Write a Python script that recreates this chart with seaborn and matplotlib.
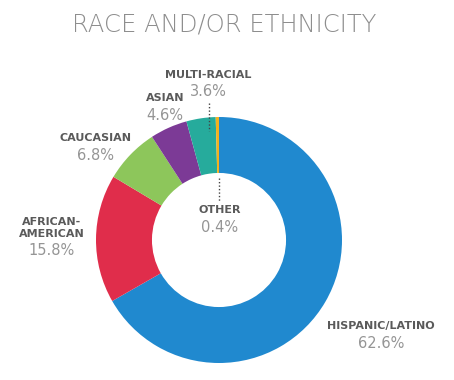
import matplotlib
matplotlib.use("Agg")
import matplotlib.pyplot as plt
import seaborn as sns

sns.set_theme(style="white")
plt.rcParams["font.family"] = ["DejaVu Sans"]

# data, clockwise from 12 o'clock
categories = ["HISPANIC/LATINO", "AFRICAN-\nAMERICAN", "CAUCASIAN", "ASIAN", "MULTI-RACIAL", "OTHER"]
shares = [62.6, 15.8, 6.8, 4.6, 3.6, 0.4]
share_labels = ["62.6%", "15.8%", "6.8%", "4.6%", "3.6%", "0.4%"]
colors = sns.color_palette(["#2089cf", "#e02d4b", "#8dc65b", "#7c3a96", "#26ab9c", "#f3b11d"])

W, H = 454, 380
fig = plt.figure(figsize=(W / 100, H / 100), dpi=100)

# donut centre (219, 240) px, radius 123 px
cx, cy, r = 219, 240, 123
ax = fig.add_axes([(cx - r) / W, (H - cy - r) / H, 2 * r / W, 2 * r / H])
ax.pie(shares, colors=colors, startangle=90, counterclock=False, radius=1,
       wedgeprops=dict(width=0.455, linewidth=0))
ax.set_xlim(-1, 1)
ax.set_ylim(-1, 1)
ax.set_aspect("equal")
ax.axis("off")


def fx(px):
    return px / W


def fy(py):
    return 1 - py / H


fig.text(fx(224), fy(25), "RACE AND/OR ETHNICITY", ha="center", va="center",
         fontsize=17.5, color="#8e8e8e", fontweight="light")

# label anchor positions (px): x, name y, percent y
label_pos = {
    "HISPANIC/LATINO": (381, 326, 343),
    "AFRICAN-\nAMERICAN": (52, 228, 250),
    "CAUCASIAN": (95, 138, 155),
    "ASIAN": (165, 98, 115),
    "MULTI-RACIAL": (208, 75, 92),
    "OTHER": (220, 210, 227),
}

for name, pct in zip(categories, share_labels):
    x, y_name, y_pct = label_pos[name]
    fig.text(fx(x), fy(y_name), name, ha="center", va="center", fontsize=8,
             fontweight="bold", color="#5a5a5a", linespacing=1.2)
    fig.text(fx(x), fy(y_pct), pct, ha="center", va="center", fontsize=10.5,
             color="#959595")

# dotted leader lines for the small slices
def leader(px, py0, py1):
    ax.plot([(px - cx) / r] * 2, [(cy - py0) / r, (cy - py1) / r], color="#444444",
            linestyle=(0, (1, 1.5)), linewidth=1, clip_on=False)


leader(209, 103, 131)
leader(219, 178, 202)

plt.savefig("out.png", dpi=100)
plt.close()
